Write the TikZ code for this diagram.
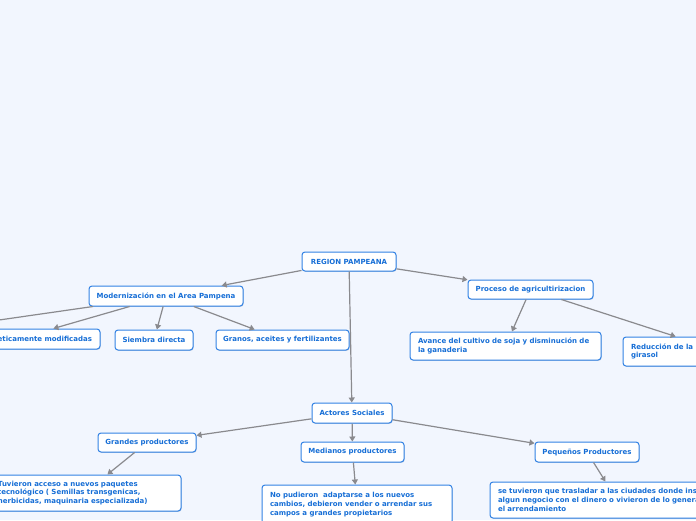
\documentclass[tikz,border=0pt]{standalone}
\usepackage{fontspec}
\setmainfont{DejaVu Sans}
\usetikzlibrary{arrows.meta,shadows}
\definecolor{bgc}{RGB}{242,246,254}
\definecolor{boxblue}{RGB}{50,130,228}
\definecolor{txtblue}{RGB}{22,110,214}
\definecolor{linegray}{RGB}{138,138,142}
\tikzset{
  mbox/.style={draw=boxblue, fill=white, rounded corners=3pt, line width=1pt,
    font=\fontsize{7}{8.7}\selectfont\bfseries, text=txtblue, inner sep=0pt,
    drop shadow={shadow xshift=0.6pt, shadow yshift=-0.8pt, opacity=0.25, fill=boxblue!60!black}},
  lbox/.style={mbox, align=left, inner xsep=8pt},
  rbox/.style={mbox, align=right, inner xsep=8pt},
  conn/.style={draw=linegray, line width=1.2pt, -{Triangle[length=5pt,width=6pt]}},
}
\begin{document}
\begin{tikzpicture}[x=1pt,y=-1pt]
\fill[bgc] (0,0) rectangle (696,520);
\useasboundingbox (0,0) rectangle (696,520);

\node[mbox, minimum width=94pt, minimum height=19pt] (region) at (349,261.5) {REGION PAMPEANA};
\node[mbox, minimum width=154pt, minimum height=20pt] (mod) at (166,296) {Modernización en el Area Pampena};
\node[rbox, text width=150pt, minimum height=20pt] (gen) at (17,339) {eticamente modificadas};
\node[mbox, minimum width=78pt, minimum height=20pt] (siembra) at (154,340) {Siembra directa};
\node[mbox, minimum width=133pt, minimum height=20pt] (granos) at (282.5,340) {Granos, aceites y fertilizantes};
\coordinate (offleft) at (-60,328.5);

\node[mbox, minimum width=125pt, minimum height=19pt] (proceso) at (530.5,289.5) {Proceso de agricultirizacion};
\node[lbox, text width=175pt, minimum height=28pt] (avance) at (505.5,346) {Avance del cultivo de soja y disminución de\\la ganaderia};
\node[lbox, text width=182pt, minimum height=29pt] (reduc) at (722,351.5) {Reducción de la\\girasol};

\node[mbox, minimum width=80pt, minimum height=20pt] (actores) at (352,413) {Actores Sociales};
\node[mbox, minimum width=98pt, minimum height=19pt] (grandes) at (147,442.5) {Grandes productores};
\node[mbox, minimum width=103pt, minimum height=20pt] (medianos) at (352.5,452) {Medianos productores};
\node[mbox, minimum width=104pt, minimum height=20pt] (pequenos) at (587,452) {Pequeños Productores};

\node[lbox, inner xsep=10pt, text width=173pt, minimum height=36pt] (tuvieron) at (84.5,493) {Tuvieron acceso a nuevos paquetes\\tecnológico ( Semillas transgenicas,\\herbicidas, maquinaria especializada)};
\node[lbox, text width=174pt, minimum height=39pt] (nopud) at (357,504.5) {No pudieron\ \ adaptarse a los nuevos\\cambios, debieron vender o arrendar sus\\campos a grandes propietarios};
\node[lbox, text width=238pt, minimum height=36pt] (setuv) at (617,500) {se tuvieron que trasladar a las ciudades donde ins\\algun negocio con el dinero o vivieron de lo genera\\el arrendamiento};

\draw[conn] (region) -- (mod);
\draw[conn] (region) -- (proceso);
\draw[conn] (region) -- (actores);
\draw[conn] (mod) -- (gen);
\draw[draw=linegray, line width=1.2pt] (mod) -- (offleft);
\draw[conn] (mod) -- (siembra);
\draw[conn] (mod) -- (granos);
\draw[conn] (proceso) -- (avance);
\draw[conn] (proceso) -- (reduc);
\draw[conn] (actores) -- (grandes);
\draw[conn] (actores) -- (medianos);
\draw[conn] (actores) -- (pequenos);
\draw[conn] (grandes) -- (tuvieron);
\draw[conn] (medianos) -- (nopud);
\draw[conn] (pequenos) -- (setuv);
\end{tikzpicture}
\end{document}
